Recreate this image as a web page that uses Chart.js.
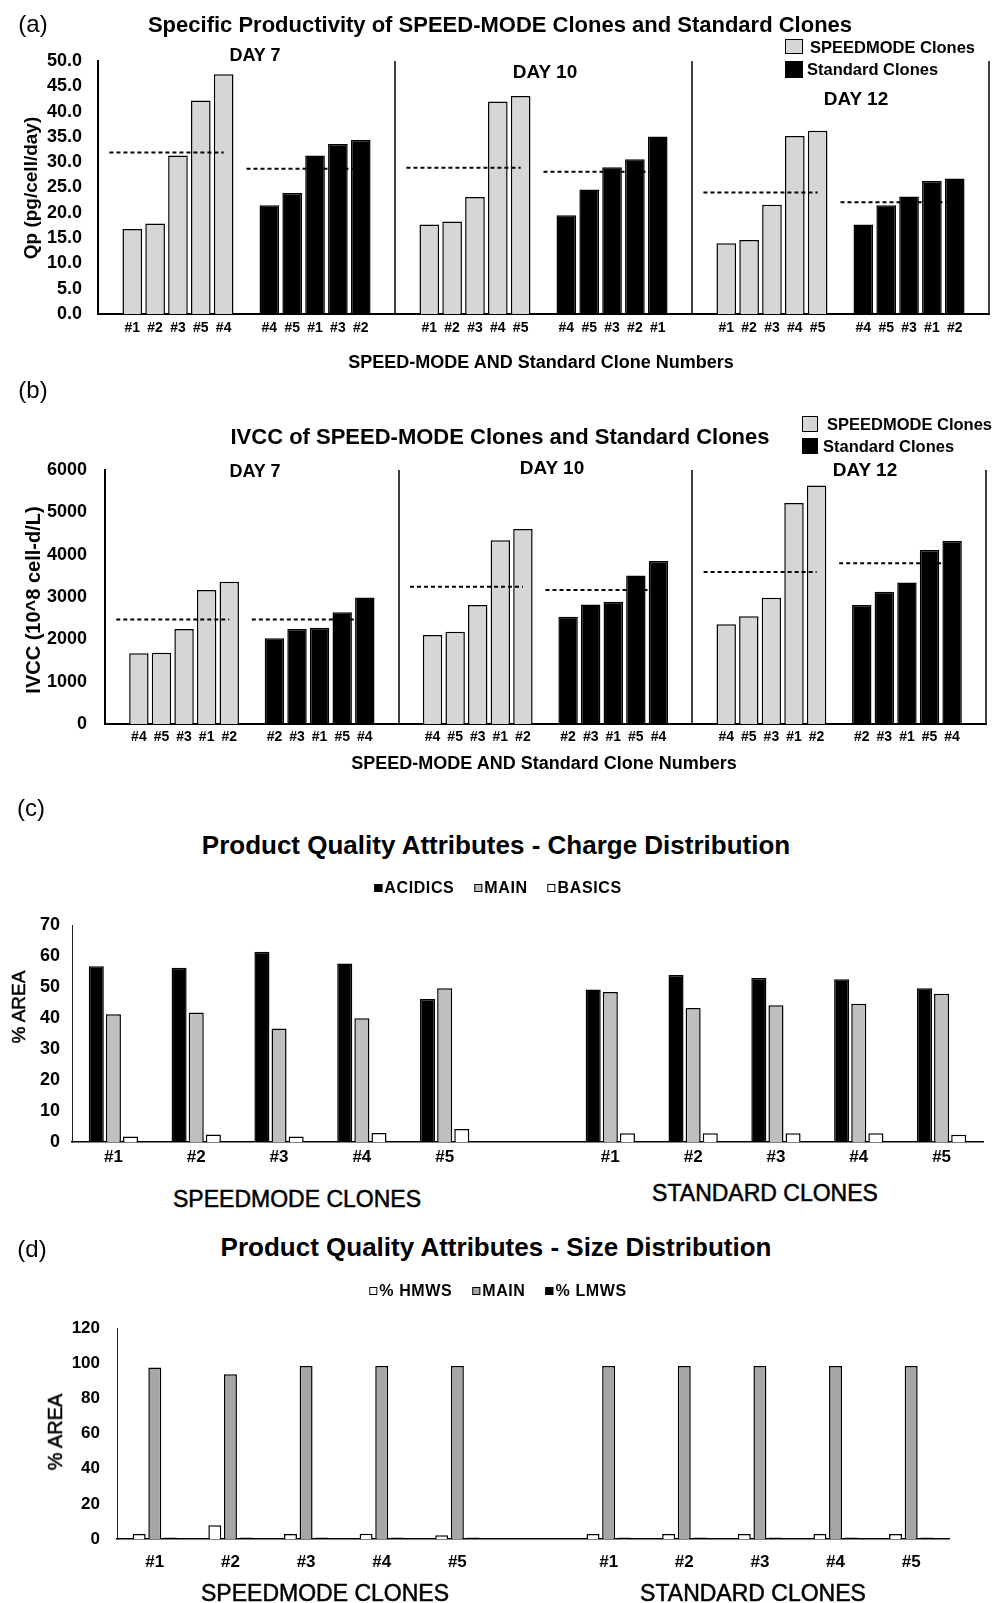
<!DOCTYPE html>
<html lang="en">
<head>
<meta charset="UTF-8">
<title>SPEED-MODE Clones and Standard Clones</title>
<script src="https://cdn.jsdelivr.net/npm/chart.js@4"></script>
<style>
    body { margin: 0; background: #fff; color: #000; font-family: "Liberation Sans", Arial, sans-serif; }
    #page { position: relative; width: 992px; height: 1603px; overflow: hidden; }
    canvas { position: absolute; left: 0; }
    .t { position: absolute; white-space: nowrap; line-height: 1; }
    .c { transform: translate(-50%, -50%); }
    .l { transform: translateY(-50%); }
    .v { transform: translate(-50%, -50%) rotate(-90deg); }
    .b { font-weight: bold; }
    .m { -webkit-text-stroke: 0.5px #000; }
    .box { position: absolute; box-sizing: border-box; border: 1.5px solid #000; }
    .legend { position: absolute; transform: translate(-50%, -50%); display: flex; gap: 20px;
              font-weight: bold; font-size: 16px; letter-spacing: 0.6px; white-space: nowrap; line-height: 1; }
    .legend span { display: flex; align-items: center; }
    .legend i { display: inline-block; width: 8px; height: 8px; box-sizing: border-box; border: 1px solid #000; margin-right: 2px; }
</style>
</head>
<body>
<div id="page">
    <canvas id="qpChart" width="992" height="345" style="top:0"></canvas>
    <canvas id="ivccChart" width="992" height="390" style="top:370px"></canvas>
    <canvas id="chargeChart" width="992" height="275" style="top:895px"></canvas>
    <canvas id="sizeChart" width="992" height="290" style="top:1295px"></canvas>

    <!-- (a) -->
    <div class="t c" style="left:33px;top:24px;font-size:24px">(a)</div>
    <div class="t c b" style="left:500px;top:25px;font-size:22px">Specific Productivity of SPEED-MODE Clones and Standard Clones</div>
    <div class="t c b" style="left:255px;top:55px;font-size:18px">DAY 7</div>
    <div class="t c b" style="left:545px;top:71px;font-size:19px">DAY 10</div>
    <div class="t c b" style="left:856px;top:98px;font-size:19px">DAY 12</div>
    <div class="box" style="left:785px;top:39px;width:18px;height:15px;background:#d6d6d6"></div>
    <div class="t l b" style="left:810px;top:47px;font-size:16.5px">SPEEDMODE Clones</div>
    <div class="box" style="left:785px;top:61px;width:18px;height:17px;background:#000"></div>
    <div class="t l b" style="left:807px;top:69px;font-size:16.5px">Standard Clones</div>
    <div class="t v b" style="left:30px;top:188px;font-size:19px">Qp (pg/cell/day)</div>
    <div class="t c b" style="left:541px;top:362px;font-size:18px">SPEED-MODE AND Standard Clone Numbers</div>

    <!-- (b) -->
    <div class="t c" style="left:33px;top:390px;font-size:24px">(b)</div>
    <div class="t c b" style="left:500px;top:437px;font-size:22px">IVCC of SPEED-MODE Clones and Standard Clones</div>
    <div class="box" style="left:802px;top:416px;width:16px;height:16px;background:#d6d6d6"></div>
    <div class="t l b" style="left:827px;top:424px;font-size:16.5px">SPEEDMODE Clones</div>
    <div class="box" style="left:802px;top:438px;width:16px;height:16px;background:#000"></div>
    <div class="t l b" style="left:823px;top:446px;font-size:16.5px">Standard Clones</div>
    <div class="t c b" style="left:255px;top:471px;font-size:18px">DAY 7</div>
    <div class="t c b" style="left:552px;top:467px;font-size:19px">DAY 10</div>
    <div class="t c b" style="left:865px;top:469px;font-size:19px">DAY 12</div>
    <div class="t v b" style="left:33px;top:600px;font-size:20px">IVCC (10^8 cell-d/L)</div>
    <div class="t c b" style="left:544px;top:763px;font-size:18px">SPEED-MODE AND Standard Clone Numbers</div>

    <!-- (c) -->
    <div class="t c" style="left:31px;top:808px;font-size:24px">(c)</div>
    <div class="t c b" style="left:496px;top:845px;font-size:26px">Product Quality Attributes - Charge Distribution</div>
    <div class="legend" style="left:498px;top:888px">
        <span><i style="background:#000"></i>ACIDICS</span>
        <span><i style="background:#bfbfbf"></i>MAIN</span>
        <span><i style="background:#fff"></i>BASICS</span>
    </div>
    <div class="t v m" style="left:18px;top:1007px;font-size:19px">% AREA</div>
    <div class="t c m" style="left:297px;top:1199px;font-size:23px">SPEEDMODE CLONES</div>
    <div class="t c m" style="left:765px;top:1193px;font-size:23px">STANDARD CLONES</div>

    <!-- (d) -->
    <div class="t c" style="left:32px;top:1249px;font-size:24px">(d)</div>
    <div class="t c b" style="left:496px;top:1247px;font-size:26px">Product Quality Attributes - Size Distribution</div>
    <div class="legend" style="left:498px;top:1291px">
        <span><i style="background:#fff"></i>% HMWS</span>
        <span><i style="background:#a6a6a6"></i>MAIN</span>
        <span><i style="background:#000"></i>% LMWS</span>
    </div>
    <div class="t v m" style="left:55px;top:1432px;font-size:20px">% AREA</div>
    <div class="t c m" style="left:325px;top:1593px;font-size:23px">SPEEDMODE CLONES</div>
    <div class="t c m" style="left:753px;top:1593px;font-size:23px">STANDARD CLONES</div>
</div>

<script>
    Chart.defaults.font.family = '"Liberation Sans", Arial, sans-serif';
    Chart.defaults.color = '#000';

    // (a) specific productivity, per day (7, 10, 12)
    const qpTicks = [0, 5, 10, 15, 20, 25, 30, 35, 40, 45, 50];
    const qpSpeedClones = [['#1', '#2', '#3', '#5', '#4'], ['#1', '#2', '#3', '#4', '#5'], ['#1', '#2', '#3', '#4', '#5']];
    const qpSpeedValues = [[16.8, 17.9, 31.3, 42.2, 47.4], [17.7, 18.3, 23.1, 42.0, 43.1], [14.0, 14.6, 21.6, 35.2, 36.2]];
    const qpStdClones = [['#4', '#5', '#1', '#3', '#2'], ['#4', '#5', '#3', '#2', '#1'], ['#4', '#5', '#3', '#1', '#2']];
    const qpStdValues = [[21.5, 23.9, 31.3, 33.6, 34.4], [19.5, 24.6, 29.0, 30.6, 35.1], [17.7, 21.5, 23.2, 26.3, 26.8]];
    const qpSpeedMean = [31.9, 28.9, 24.0];
    const qpStdMean = [28.7, 28.1, 22.1];

    // (b) IVCC, per day
    const ivccTicks = [0, 1000, 2000, 3000, 4000, 5000, 6000];
    const ivccSpeedClones = [['#4', '#5', '#3', '#1', '#2'], ['#4', '#5', '#3', '#1', '#2'], ['#4', '#5', '#3', '#1', '#2']];
    const ivccSpeedValues = [[1670, 1685, 2245, 3165, 3360], [2100, 2180, 2810, 4340, 4605], [2355, 2545, 2985, 5220, 5635]];
    const ivccStdClones = [['#2', '#3', '#1', '#5', '#4'], ['#2', '#3', '#1', '#5', '#4'], ['#2', '#3', '#1', '#5', '#4']];
    const ivccStdValues = [[2025, 2245, 2275, 2640, 2990], [2535, 2825, 2890, 3510, 3850], [2810, 3125, 3345, 4110, 4320]];
    const ivccSpeedMean = [2470, 3245, 3590];
    const ivccStdMean = [2470, 3165, 3795];

    // (c) charge distribution
    const chargeTicks = [0, 10, 20, 30, 40, 50, 60, 70];
    const chargeClones = ['#1', '#2', '#3', '#4', '#5', '', '#1', '#2', '#3', '#4', '#5'];
    const acidics = [56.7, 56.2, 61.4, 57.6, 46.1, null, 49.2, 53.9, 52.9, 52.5, 49.6];
    const chargeMain = [41.2, 41.8, 36.6, 39.9, 49.6, null, 48.4, 43.2, 44.1, 44.6, 47.8];
    const basics = [1.8, 2.4, 1.8, 2.9, 4.2, null, 2.8, 2.8, 2.8, 2.8, 2.3];

    // (d) size distribution
    const sizeTicks = [0, 20, 40, 60, 80, 100, 120];
    const sizeClones = ['#1', '#2', '#3', '#4', '#5', '', '#1', '#2', '#3', '#4', '#5'];
    const hmws = [2.8, 7.8, 2.8, 3.0, 2.1, null, 2.8, 2.8, 2.8, 2.8, 2.8];
    const sizeMain = [97.5, 93.7, 98.4, 98.4, 98.4, null, 98.4, 98.4, 98.4, 98.4, 98.4];
    const lmws = [0.8, 0.8, 0.8, 0.8, 0.8, null, 0.8, 0.8, 0.8, 0.8, 0.8];

    // lay the three days out on one category axis: blank, 5 speed clones, blank, 5 standard clones, blank
    function dayAxis(speedClones, speedValues, stdClones, stdValues, speedMean, stdMean) {
        const out = { labels: [], speed: [], std: [], speedMean: [], stdMean: [] };
        const push = (label, s, t, ms, mt) => {
            out.labels.push(label); out.speed.push(s); out.std.push(t);
            out.speedMean.push(ms); out.stdMean.push(mt);
        };
        speedClones.forEach((clones, d) => {
            push('', null, null, speedMean[d], null);
            clones.forEach((c, i) => push(c, speedValues[d][i], null, speedMean[d], null));
            push('', null, null, null, stdMean[d]);
            stdClones[d].forEach((c, i) => push(c, null, stdValues[d][i], null, stdMean[d]));
            push('', null, null, null, null);
        });
        return out;
    }

    // vertical lines closing each day block
    const daySeparators = {
        id: 'daySeparators',
        afterDatasetsDraw(chart) {
            const { ctx, chartArea: { top, bottom, left, right } } = chart;
            ctx.save();
            ctx.strokeStyle = '#000';
            ctx.lineWidth = 1.5;
            for (let k = 1; k <= 3; k++) {
                const x = Math.round(left + (right - left) * k / 3);
                ctx.beginPath();
                ctx.moveTo(x, top);
                ctx.lineTo(x, bottom);
                ctx.stroke();
            }
            ctx.restore();
        }
    };

    function dayChart(id, axis, ticks, fmt, geo) {
        const dashed = (data) => ({
            type: 'line', data: data, borderColor: '#000', borderWidth: 2, borderDash: [4, 3],
            pointRadius: 0, spanGaps: false, order: 0
        });
        return new Chart(document.getElementById(id), {
            type: 'bar',
            data: {
                labels: axis.labels,
                datasets: [
                    dashed(axis.speedMean),
                    dashed(axis.stdMean),
                    { label: 'SPEEDMODE Clones', data: axis.speed, backgroundColor: '#d6d6d6', borderColor: '#000', borderWidth: 1.5, grouped: false, order: 1 },
                    { label: 'Standard Clones', data: axis.std, backgroundColor: '#000', borderColor: '#000', borderWidth: 1.5, grouped: false, order: 1 }
                ]
            },
            options: {
                responsive: false,
                animation: false,
                events: [],
                layout: { padding: { top: geo.top, right: geo.right, left: 0, bottom: 0 } },
                plugins: { legend: { display: false }, tooltip: { enabled: false } },
                datasets: { bar: { categoryPercentage: 1, barPercentage: 0.86 } },
                scales: {
                    x: {
                        grid: { display: false, drawTicks: false },
                        border: { color: '#000', width: 2 },
                        ticks: { autoSkip: false, maxRotation: 0, minRotation: 0, padding: geo.xpad, font: { size: 14, weight: 'bold' } },
                        afterFit: (s) => { s.height = geo.xh; }
                    },
                    y: {
                        min: ticks[0], max: ticks[ticks.length - 1],
                        afterBuildTicks: (s) => { s.ticks = ticks.map(v => ({ value: v })); },
                        grid: { display: false, drawTicks: false },
                        border: { color: '#000', width: 2 },
                        ticks: { padding: geo.ypad, font: { size: 18, weight: 'bold' }, callback: fmt },
                        afterFit: (s) => { s.width = geo.left; }
                    }
                }
            },
            plugins: [daySeparators]
        });
    }

    function pqaChart(id, labels, sets, ticks, geo) {
        return new Chart(document.getElementById(id), {
            type: 'bar',
            data: {
                labels: labels,
                datasets: sets.map(s => ({
                    label: s.label, data: s.data, backgroundColor: s.color, borderColor: '#000', borderWidth: 1.5
                }))
            },
            options: {
                responsive: false,
                animation: false,
                events: [],
                layout: { padding: { top: geo.top, right: geo.right, left: 0, bottom: 0 } },
                plugins: { legend: { display: false }, tooltip: { enabled: false } },
                datasets: { bar: { categoryPercentage: 0.62, barPercentage: geo.barPct } },
                scales: {
                    x: {
                        grid: { display: false, drawTicks: false },
                        border: { color: '#000', width: 1.5 },
                        ticks: { autoSkip: false, maxRotation: 0, minRotation: 0, padding: geo.xpad, font: { size: 17, weight: 'bold' } },
                        afterFit: (s) => { s.height = geo.xh; }
                    },
                    y: {
                        min: ticks[0], max: ticks[ticks.length - 1],
                        afterBuildTicks: (s) => { s.ticks = ticks.map(v => ({ value: v })); },
                        grid: { display: false, drawTicks: false },
                        border: { color: '#222', width: 1 },
                        ticks: { padding: geo.ypad, font: { size: geo.yfont, weight: 'bold' }, callback: (v) => String(v) },
                        afterFit: (s) => { s.width = geo.left; }
                    }
                }
            }
        });
    }

    dayChart('qpChart',
        dayAxis(qpSpeedClones, qpSpeedValues, qpStdClones, qpStdValues, qpSpeedMean, qpStdMean),
        qpTicks, (v) => v.toFixed(1),
        { top: 61, right: 3, left: 98, xh: 31, xpad: 6, ypad: 16 });

    dayChart('ivccChart',
        dayAxis(ivccSpeedClones, ivccSpeedValues, ivccStdClones, ivccStdValues, ivccSpeedMean, ivccStdMean),
        ivccTicks, (v) => String(v),
        { top: 100, right: 6, left: 105, xh: 36, xpad: 5, ypad: 18 });

    pqaChart('chargeChart', chargeClones, [
        { label: 'ACIDICS', data: acidics, color: '#000' },
        { label: 'MAIN', data: chargeMain, color: '#bfbfbf' },
        { label: 'BASICS', data: basics, color: '#fff' }
    ], chargeTicks, { top: 30, right: 9, left: 72, xh: 28, xpad: 5, ypad: 12, yfont: 18, barPct: 0.88 });

    pqaChart('sizeChart', sizeClones, [
        { label: '% HMWS', data: hmws, color: '#fff' },
        { label: 'MAIN', data: sizeMain, color: '#a6a6a6' },
        { label: '% LMWS', data: lmws, color: '#000' }
    ], sizeTicks, { top: 33, right: 43, left: 117, xh: 46, xpad: 13, ypad: 17, yfont: 17, barPct: 0.83 });
</script>
</body>
</html>
